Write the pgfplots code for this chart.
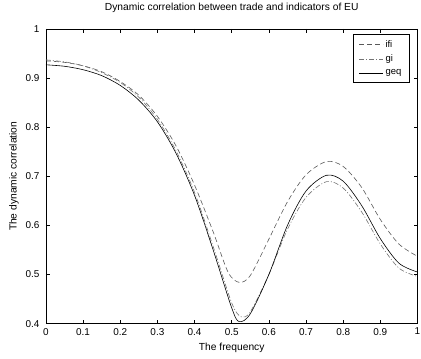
\documentclass[border=0pt]{standalone}
\usepackage{pgfplots}
\pgfplotsset{compat=1.18}
\usepackage{fontspec}
\setmainfont{Liberation Sans}
\begin{document}
\begin{tikzpicture}[x=1bp,y=1bp]
\begin{axis}[
  scale only axis,
  width=372bp, height=295bp,
  xmin=0, xmax=1, ymin=0.4, ymax=1,
  xtick={0,0.1,...,1.01}, ytick={0.4,0.5,...,1.01},
  xticklabels={0,0.1,0.2,0.3,0.4,0.5,0.6,0.7,0.8,0.9,1},
  yticklabels={0.4,0.5,0.6,0.7,0.8,0.9,1},
  tick align=inside, tick pos=both,
  major tick length=4bp,
  axis line style={black, line width=0.6pt},
  tick style={black, line width=0.5pt},
  ticklabel style={font=\fontsize{10}{11}\selectfont},
  xticklabel style={yshift=-1bp},
  yticklabel style={xshift=-3bp},
  title style={font=\fontsize{10.3}{11}\selectfont, at={(axis description cs:0.5,1.051)}, anchor=center},
  title={Dynamic correlation between trade and indicators of EU},
  xlabel={The frequency},
  ylabel={The dynamic correlation},
  every axis x label/.style={at={(axis description cs:0.5,-0.0814)}, anchor=center, font=\fontsize{10.3}{11}\selectfont},
  every axis y label/.style={at={(axis description cs:-0.086,0.5)}, anchor=center, rotate=90, font=\fontsize{10.3}{11}\selectfont},
  legend style={at={(rel axis cs:0.9785,0.983)}, anchor=north east,
    font=\fontsize{9.5}{10}\selectfont, draw=black, line width=0.5pt,
    row sep=2.5bp, inner xsep=6bp, inner ysep=4bp},
  legend cell align=left,
  legend image code/.code={\draw[#1] (2bp,0bp) -- (26bp,0bp);},
]
\addplot[smooth, color=black!65, line width=0.6pt, dash pattern=on 5bp off 3bp] coordinates {
(0,0.935) (0.05,0.932) (0.1,0.925) (0.15,0.913) (0.2,0.893) (0.25,0.865) (0.3,0.822) (0.35,0.762) (0.4,0.682) (0.45,0.587) (0.49,0.505) (0.52,0.484) (0.55,0.498) (0.6,0.572) (0.65,0.648) (0.7,0.703) (0.755,0.730) (0.8,0.72) (0.85,0.677) (0.9,0.612) (0.95,0.562) (1,0.537)};
\addlegendentry{ifi\hspace{4bp}}
\addplot[smooth, color=black!55, line width=0.6pt, dash pattern=on 5bp off 2bp on 1bp off 2bp] coordinates {
(0,0.937) (0.05,0.933) (0.1,0.925) (0.15,0.911) (0.2,0.891) (0.25,0.861) (0.3,0.816) (0.35,0.752) (0.4,0.667) (0.45,0.557) (0.5,0.442) (0.525,0.414) (0.55,0.424) (0.6,0.5) (0.65,0.592) (0.7,0.657) (0.755,0.689) (0.8,0.676) (0.85,0.627) (0.9,0.562) (0.95,0.513) (1,0.496)};
\addlegendentry{gi}
\addplot[smooth, color=black, line width=0.6pt] coordinates {
(0,0.927) (0.05,0.924) (0.1,0.917) (0.15,0.905) (0.2,0.885) (0.25,0.855) (0.3,0.811) (0.35,0.747) (0.4,0.661) (0.45,0.55) (0.5,0.432) (0.52,0.404) (0.55,0.42) (0.6,0.5) (0.65,0.6) (0.7,0.67) (0.755,0.702) (0.8,0.69) (0.85,0.64) (0.9,0.573) (0.95,0.523) (1,0.505)};
\addlegendentry{geq}
\end{axis}
\pgfresetboundingbox
\useasboundingbox ([xshift=-46bp,yshift=-35bp]current axis.south west) rectangle ([xshift=3.5bp,yshift=29bp]current axis.north east);
\end{tikzpicture}
\end{document}
